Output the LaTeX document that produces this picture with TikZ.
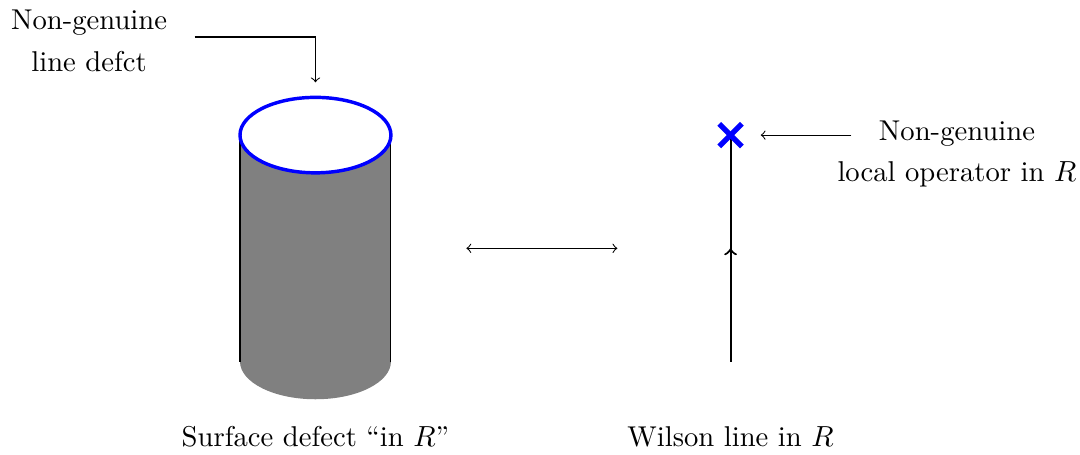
\documentclass[tikz,border=0pt]{standalone}
\usepackage{amsmath, amsfonts, amssymb}
\usepackage{xcolor}
\usepackage{tikz}
\usetikzlibrary{decorations.markings}

\tikzset{
	lbl/.style={font=\fontsize{10.8}{15.8}\selectfont, align=center},
	midarrow/.style={decoration={markings, mark=at position 0.5 with {\arrow{to}}}, postaction={decorate}}
}

\begin{document}
\begin{tikzpicture}
\useasboundingbox (-4.18,-4.23) rectangle (10.13,1.79);

% cylinder
\fill[color=black!50!white] (-1,0)--(-1,-3) arc (180:360:1 and 0.5)--(1,0)--cycle;
\draw (-1,0)--(-1,-3);
\draw (1,0)--(1,-3);
\draw[color=blue, line width=1.3pt, fill=white] (0,0) ellipse (1 and 0.5);

% Wilson line
\coordinate (wbot) at (5.5,-3);
\coordinate (wtop) at (5.5,0);
\draw[thick, midarrow] (wbot)--(wtop);
\draw[color=blue, line width=2pt] (5.35,-0.15)--(5.65,0.15);
\draw[color=blue, line width=2pt] (5.35,0.15)--(5.65,-0.15);

% labels
\node[lbl] (lined) at (-3,1.25) {Non-genuine\\line defct};
\node[lbl] (localop) at (8.5,-0.25) {Non-genuine\\local operator in $R$};
\node[lbl] (surf) at (0,-4) {Surface defect ``in $R$''};
\node[lbl] (wils) at (5.5,-4) {Wilson line in $R$};

% arrows
\coordinate (a1) at (-1.6,1.3);
\coordinate (a2) at (0,0.7);
\draw[->] (a1) -| (a2);
\coordinate (b1) at (7.1,0);
\coordinate (b2) at (5.9,0);
\draw[->] (b1)--(b2);
\coordinate (c1) at (2,-1.5);
\coordinate (c2) at (4,-1.5);
\draw[<->] (c1)--(c2);

\end{tikzpicture}
\end{document}
